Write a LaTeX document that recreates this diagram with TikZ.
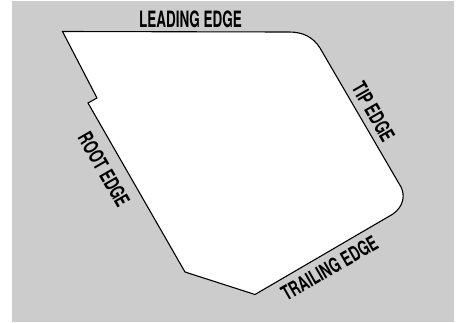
\documentclass[tikz,border=0pt]{standalone}
\usepackage{graphicx}
\usepackage{fontspec}
\setmainfont{TeX Gyre Heros}
\newcommand{\narrowtext}[1]{\scalebox{0.6}[1]{#1}}
\newcommand{\sidetext}[1]{\scalebox{0.67}[1]{#1}}
\tikzset{edgelabel/.style={font=\bfseries\fontsize{22.5}{24}\selectfont,text=black,inner sep=0pt},
sidelabel/.style={font=\bfseries\fontsize{20.5}{22}\selectfont,text=black,inner sep=0pt}}
\begin{document}
\begin{tikzpicture}[x=1pt,y=-1pt]
\useasboundingbox (0,0) rectangle (461,322);
\fill[white] (0,0) rectangle (461,322);
\fill[black!20] (12,1) rectangle (454,322);
\draw[fill=white,line width=1.1pt,line join=miter]
 (62.5,31.5) -- (289,32) .. controls (303,32) and (313,37) .. (320,48)
 -- (401,187) .. controls (405,195) and (404,206) .. (393,214)
 -- (255,294.5) -- (185,272) -- (88,103) -- (97,98) -- cycle;
\node[edgelabel] (lead) at (190.5,19.5) {\narrowtext{LEADING EDGE}};
\node[sidelabel,rotate=-60] (tip) at (373.5,112) {\sidetext{TIP EDGE}};
\node[sidelabel,rotate=-60] (root) at (104,169.5) {\sidetext{ROOT EDGE}};
\node[sidelabel,rotate=30] (trail) at (329.5,268) {\sidetext{TRAILING EDGE}};
\end{tikzpicture}
\end{document}
